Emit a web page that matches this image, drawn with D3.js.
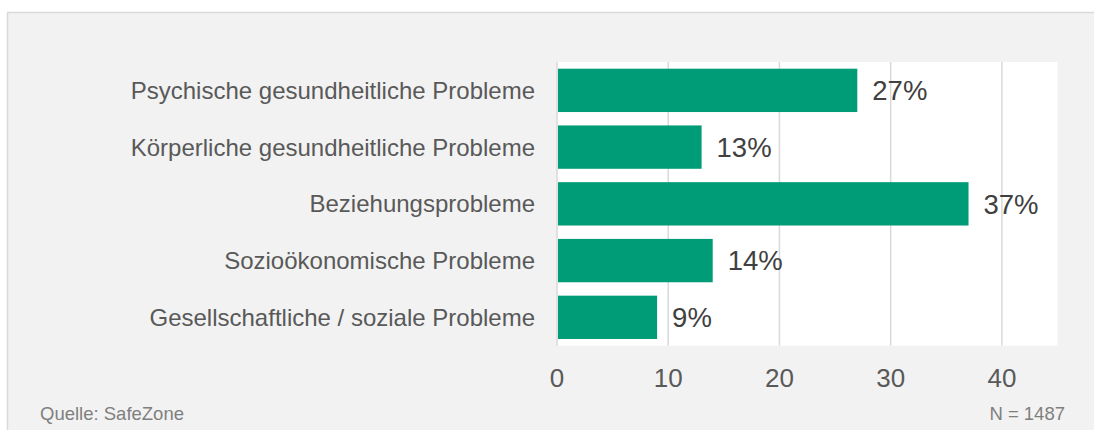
<!DOCTYPE html>
<html>
<head>
<meta charset="utf-8">
<script src="https://cdn.jsdelivr.net/npm/d3@7"></script>
<style>
  body { margin: 0; background: #fff; }
  svg { display: block; font-family: "Liberation Sans", Arial, sans-serif; }
</style>
</head>
<body>
<svg width="1094" height="430"></svg>
<script>
const categories = [
    "Psychische gesundheitliche Probleme",
    "Körperliche gesundheitliche Probleme",
    "Beziehungsprobleme",
    "Sozioökonomische Probleme",
    "Gesellschaftliche / soziale Probleme"
];
const values = [27, 13, 37, 14, 9];
const xTicks = [0, 10, 20, 30, 40];
const source = "Quelle: SafeZone";
const sampleSize = "N = 1487";

const plot = { left: 557, right: 1057.5, top: 62, bottom: 345.7 };

const svg = d3.select("svg");

// grey panel with light border on top and left
svg.append("rect")
    .attr("x", 7.5).attr("y", 12.5)
    .attr("width", 1200).attr("height", 500)
    .attr("fill", "#f2f2f2")
    .attr("stroke", "#d9d9d9")
    .attr("stroke-width", 1.5);

const xScale = d3.scaleLinear()
    .domain([0, 45])
    .range([plot.left, plot.right]);

const yScale = d3.scaleBand()
    .domain(categories)
    .range([plot.top, plot.bottom])
    .paddingInner(0.236)
    .paddingOuter(0.118);

// white plot area
svg.append("rect")
    .attr("x", plot.left).attr("y", plot.top)
    .attr("width", plot.right - plot.left)
    .attr("height", plot.bottom - plot.top)
    .attr("fill", "#fff");

// vertical gridlines
svg.selectAll(".grid")
    .data(xTicks)
    .enter()
    .append("line")
    .classed("grid", true)
    .attr("x1", d => xScale(d)).attr("x2", d => xScale(d))
    .attr("y1", plot.top).attr("y2", plot.bottom)
    .attr("stroke", "#d9d9d9")
    .attr("stroke-width", 1.5);

// bars
svg.selectAll(".bar")
    .data(values)
    .enter()
    .append("rect")
    .classed("bar", true)
    .attr("x", xScale(0) + 1)
    .attr("y", (d, i) => yScale(categories[i]))
    .attr("width", d => xScale(d) - xScale(0) - 1)
    .attr("height", yScale.bandwidth())
    .attr("fill", "#009b77");

// value labels
svg.selectAll(".value")
    .data(values)
    .enter()
    .append("text")
    .classed("value", true)
    .attr("x", d => xScale(d) + 15)
    .attr("y", (d, i) => yScale(categories[i]) + yScale.bandwidth() / 2)
    .attr("dy", "0.36em")
    .attr("font-size", 27.5)
    .attr("fill", "#404040")
    .text(d => d + "%");

// category labels
svg.selectAll(".cat")
    .data(categories)
    .enter()
    .append("text")
    .classed("cat", true)
    .attr("x", 535)
    .attr("y", d => yScale(d) + yScale.bandwidth() / 2)
    .attr("dy", "0.35em")
    .attr("text-anchor", "end")
    .attr("font-size", 24)
    .attr("fill", "#595959")
    .text(d => d);

// x tick labels
svg.selectAll(".tick-label")
    .data(xTicks)
    .enter()
    .append("text")
    .classed("tick-label", true)
    .attr("x", d => xScale(d))
    .attr("y", 386.5)
    .attr("text-anchor", "middle")
    .attr("font-size", 26)
    .attr("fill", "#595959")
    .text(d => d);

// footer
svg.append("text")
    .attr("x", 40).attr("y", 419.5)
    .attr("font-size", 18.5)
    .attr("fill", "#7f7f7f")
    .text(source);

svg.append("text")
    .attr("x", 1065).attr("y", 419.5)
    .attr("text-anchor", "end")
    .attr("font-size", 18.5)
    .attr("fill", "#7f7f7f")
    .text(sampleSize);
</script>
</body>
</html>
